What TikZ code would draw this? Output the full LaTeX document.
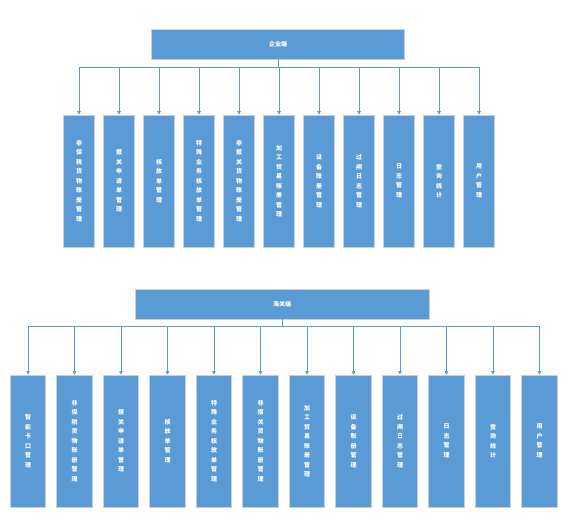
\documentclass[tikz,border=0pt]{standalone}
\usepackage{fontspec}
\newfontfamily\cjk{Noto Sans CJK SC}
\usepackage{tikz}
\usetikzlibrary{arrows.meta,shadows}
\definecolor{boxblue}{HTML}{5B9BD5}
\definecolor{boxedge}{HTML}{C9CFD6}

\begin{document}
\begin{tikzpicture}[x=1pt,y=-1pt,
 e/.style={draw=boxedge,line width=0.7pt,fill=boxblue,text=white,inner sep=0pt,
  font=\cjk\bfseries\fontsize{6}{9.5}\selectfont,
  drop shadow={opacity=0.25,shadow xshift=0.7pt,shadow yshift=-0.7pt}},
 root/.style={e,minimum height=30pt},
 leaf/.style={e,minimum height=132pt,text width=7pt,align=center},
 link/.style={draw=boxblue,line width=0.8pt,-{Triangle[length=3.5pt,width=3.5pt]}}]
\useasboundingbox (0,0) rectangle (568,527);
\XeTeXlinebreaklocale "zh"
\XeTeXlinebreakskip=0pt plus 1pt
% upper tree
\node[root,minimum width=253pt] (ent) at (278,44) {企业端};
\coordinate (eb) at (278,67);
\foreach \lbl [count=\i from 0] in {非保税货物账册管理,报关申请单管理,核放单管理,特殊业务核放单管理,
  非报关货物账册管理,加工贸易账册管理,设备账册管理,过闸日志管理,日志管理,查询统计,用户管理}
{
 \node[leaf,minimum width=30.5pt] (e\i) at (79+40*\i,181) {\lbl};
 \draw[link] (ent.south) -- (eb) -| (e\i.north);
}
% lower tree
\node[root,minimum width=294pt] (cus) at (282,304) {海关端};
\coordinate (cb) at (282,326);
\foreach \lbl [count=\i from 0] in {智能卡口管理,非保税货物账册管理,报关申请单管理,核放单管理,特殊业务核放单管理,
  非报关货物账册管理,加工贸易账册管理,设备账册管理,过闸日志管理,日志管理,查询统计,用户管理}
{
 \node[leaf,minimum width=35.5pt] (c\i) at (28+46.5*\i,441) {\lbl};
 \draw[link] (cus.south) -- (cb) -| (c\i.north);
}
\end{tikzpicture}
\end{document}
